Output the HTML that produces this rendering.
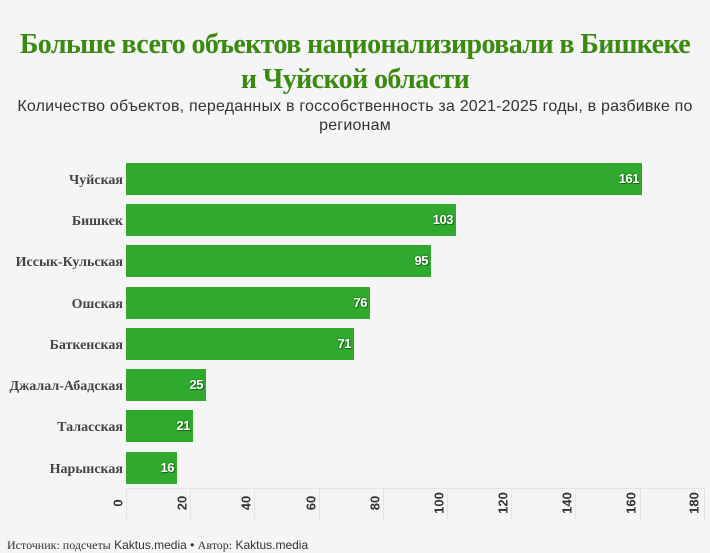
<!DOCTYPE html>
<html><head><meta charset="utf-8"><style>
body{margin:0;width:710px;height:552px;background:#f5f5f5;font-family:"Liberation Sans","DejaVu Sans",sans-serif;position:relative;overflow:hidden}
.t{position:absolute;left:0;width:710px;text-align:center;font-family:"Liberation Serif",serif;font-weight:bold;color:#3a8a10;font-size:28px;letter-spacing:-0.6px;line-height:35px;top:27px;white-space:nowrap}
.s{position:absolute;left:0;width:710px;text-align:center;color:#333;font-size:16px;letter-spacing:0.2px;line-height:19px;top:97px;white-space:nowrap}
.lab{position:absolute;right:587px;font-family:"Liberation Serif",serif;font-weight:bold;color:#444;font-size:14px;text-align:right;white-space:nowrap}
.bar{position:absolute;left:126px;height:32px;background:#2faa2f}
.v{position:absolute;right:3px;top:8px;color:#fff;font-weight:bold;font-size:13px;letter-spacing:-0.5px;text-shadow:0 0 2px #1a6a1a,1px 1px 0 #1a6a1a}
.g{position:absolute;top:489px;height:32px;width:1px;background:#e4e4e4}
.tk{position:absolute;top:503px;font-size:13px;font-weight:bold;color:#333;transform:translate(-50%,-50%) rotate(-90deg);}
.f{position:absolute;left:7px;top:538px;font-size:12px;color:#333}
</style></head><body>
<div class="t">Больше всего объектов национализировали в Бишкеке<br>и Чуйской области</div>
<div class="s">Количество объектов, переданных в госсобственность за 2021-2025 годы, в разбивке по<br>регионам</div>
<div style="position:absolute;left:126px;top:488px;width:578px;height:1px;background:#e4e4e4"></div>
<div class="lab" style="top:173px">Чуйская</div><div class="bar" style="top:163px;width:516px"><span class="v">161</span></div>
<div class="lab" style="top:214px">Бишкек</div><div class="bar" style="top:204px;width:330px"><span class="v">103</span></div>
<div class="lab" style="top:255px">Иссык-Кульская</div><div class="bar" style="top:245px;width:305px"><span class="v">95</span></div>
<div class="lab" style="top:297px">Ошская</div><div class="bar" style="top:287px;width:244px"><span class="v">76</span></div>
<div class="lab" style="top:338px">Баткенская</div><div class="bar" style="top:328px;width:228px"><span class="v">71</span></div>
<div class="lab" style="top:379px">Джалал-Абадская</div><div class="bar" style="top:369px;width:80px"><span class="v">25</span></div>
<div class="lab" style="top:420px">Таласская</div><div class="bar" style="top:410px;width:67px"><span class="v">21</span></div>
<div class="lab" style="top:462px">Нарынская</div><div class="bar" style="top:452px;width:51px"><span class="v">16</span></div>
<div class="g" style="left:126px"></div><div class="g" style="left:190px"></div><div class="g" style="left:254px"></div><div class="g" style="left:319px"></div><div class="g" style="left:383px"></div><div class="g" style="left:447px"></div><div class="g" style="left:511px"></div><div class="g" style="left:575px"></div><div class="g" style="left:640px"></div><div class="g" style="left:704px"></div>
<div class="tk" style="left:118px">0</div><div class="tk" style="left:182px">20</div><div class="tk" style="left:246px">40</div><div class="tk" style="left:311px">60</div><div class="tk" style="left:375px">80</div><div class="tk" style="left:439px">100</div><div class="tk" style="left:503px">120</div><div class="tk" style="left:567px">140</div><div class="tk" style="left:631px">160</div><div class="tk" style="left:694px">180</div>
<div class="f"><span style="font-family:'Liberation Serif',serif">Источник: подсчеты</span> Kaktus.media • <span style="font-family:'Liberation Serif',serif">Автор:</span> Kaktus.media</div>
</body></html>
